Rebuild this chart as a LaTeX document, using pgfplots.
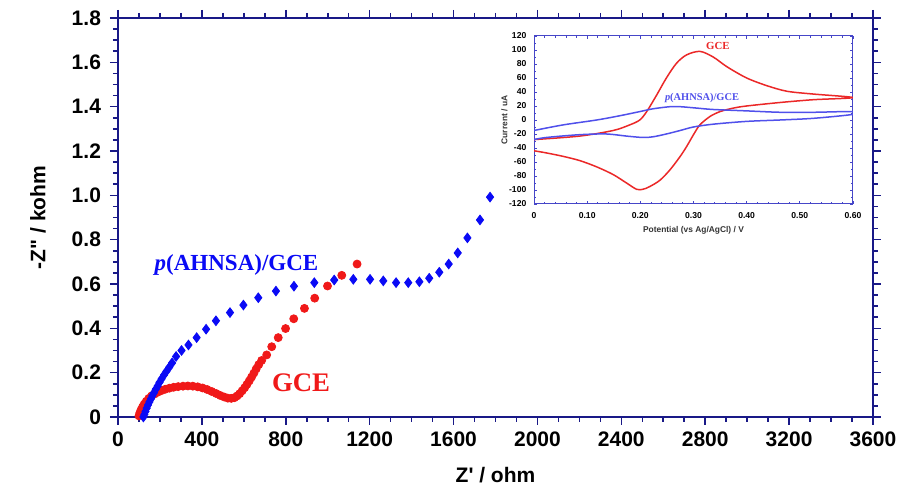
\documentclass[border=0pt]{standalone}
\usepackage{fontspec}
\setmainfont{Liberation Sans}
\newfontfamily\timesfont{Liberation Serif}
\usepackage{pgfplots}
\pgfplotsset{compat=1.18}
\definecolor{navy}{RGB}{25,25,135}
\definecolor{myblue}{RGB}{10,10,245}
\definecolor{myred}{RGB}{240,25,25}
\definecolor{insetframe}{RGB}{70,70,200}
\definecolor{cvblue}{RGB}{80,80,235}
\definecolor{cvred}{RGB}{235,40,40}

\begin{document}
\begin{tikzpicture}
\begin{axis}[
  name=main,
  scale only axis, width=377.5pt, height=199.5pt,
  xmin=0, xmax=3600, ymin=0, ymax=1.8,
  axis line style={navy, line width=1pt},
  xtick={0,400,...,3600},
  xticklabels={0,400,800,1200,1600,2000,2400,2800,3200,3600},
  minor x tick num=3,
  ytick={0,0.2,0.4,0.6,0.8,1.0,1.2,1.4,1.6,1.8},
  yticklabels={0,0.2,0.4,0.6,0.8,1.0,1.2,1.4,1.6,1.8},
  minor y tick num=3,
  tick align=outside,
  major tick length=4pt, minor tick length=2.5pt,
  every tick/.style={navy, line width=0.8pt},
  tick label style={font=\fontsize{10.5}{12}\selectfont\bfseries, black},
  xticklabel style={anchor=center, yshift=-7pt},
  yticklabel style={anchor=east, xshift=-1pt},
  xlabel={Z\textquotesingle{} / ohm},
  ylabel={-Z\textquotedbl{} / kohm},
  label style={font=\fontsize{10.5}{12}\selectfont\bfseries, black},
  x label style={at={(axis description cs:0.5,0)}, anchor=center, yshift=-29pt},
  y label style={at={(axis description cs:-0.106,0.5)}, anchor=center},
  clip=false,
]
% GCE (red)
\addplot[only marks, mark=*, mark size=2.0pt, color=myred, mark options={draw=myred, fill=myred}] coordinates {
(100,0.005) (104,0.018) (110,0.032) (117,0.045) (125,0.058) (135,0.071) (147,0.084)
(160,0.095) (175,0.104) (190,0.112) (207,0.119) (225,0.125) (245,0.130) (265,0.134)
(287,0.137) (310,0.139) (333,0.140) (357,0.139) (380,0.136) (403,0.131) (425,0.124)
(447,0.115) (468,0.106) (488,0.097) (507,0.090) (524,0.085) (540,0.084) (555,0.087)
(568,0.095) (580,0.105) (592,0.118) (604,0.132) (615,0.147) (626,0.163) (637,0.180)
(648,0.198) (659,0.217) (671,0.236) (685,0.255) (709,0.280) (733,0.317) (764,0.358)
(799,0.399) (838,0.443) (889,0.490) (938,0.536) (999,0.591) (1067,0.639) (1140,0.690)
};
% p(AHNSA)/GCE (blue)
\addplot[only marks, mark=diamond*, mark size=2.4pt, color=myblue, mark options={draw=myblue, fill=myblue}] coordinates {
(121,0.000) (126,0.012) (131,0.025) (137,0.040) (143,0.054) (150,0.068) (157,0.082)
(164,0.096) (172,0.110) (180,0.125) (189,0.140) (198,0.156) (208,0.172) (219,0.189)
(231,0.206) (244,0.224) (258,0.244) (277,0.273) (303,0.300) (336,0.325) (375,0.358)
(420,0.396) (467,0.434) (534,0.471) (598,0.505) (669,0.538) (753,0.568) (839,0.590)
(936,0.606) (1031,0.618) (1122,0.621) (1202,0.621) (1265,0.614) (1326,0.606)
(1384,0.606) (1437,0.610) (1484,0.626) (1532,0.653) (1577,0.690) (1620,0.740)
(1666,0.808) (1726,0.889) (1774,0.992)
};
\node[myblue, font=\timesfont\bfseries\fontsize{11.5}{13}\selectfont] at (axis cs:565,0.686) {\textit{p}(AHNSA)/GCE};
\node[myred, font=\timesfont\bfseries\fontsize{13.4}{15}\selectfont] at (axis cs:873,0.153) {GCE};
\end{axis}

\begin{axis}[
  at={(208pt,106.5pt)}, anchor=south west,
  scale only axis, width=159.5pt, height=84pt,
  xmin=0, xmax=0.6, ymin=-120, ymax=120,
  axis background/.style={fill=white},
  axis line style={insetframe, line width=0.5pt},
  xtick={0,0.1,0.2,0.3,0.4,0.5,0.6},
  xticklabels={0,0.10,0.20,0.30,0.40,0.50,0.60},
  minor x tick num=4,
  ytick={-120,-100,...,120},
  yticklabels={-120,-100,-80,-60,-40,-20,0,20,40,60,80,100,120},
  minor y tick num=1,
  tick align=inside,
  major tick length=1.5pt, minor tick length=0.9pt,
  every tick/.style={insetframe, line width=0.4pt},
  tick label style={font=\fontsize{4.3}{5}\selectfont\bfseries, black},
  xticklabel style={yshift=-0.5pt},
  yticklabel style={xshift=-0.3pt},
  xlabel={Potential (vs Ag/AgCl) / V},
  ylabel={Current / uA},
  label style={font=\fontsize{4.2}{5}\selectfont\bfseries, black!80},
  x label style={at={(axis description cs:0.5,0)}, anchor=center, yshift=-13pt},
  y label style={at={(axis description cs:-0.093,0.5)}, anchor=center},
]
\addplot[cvred, line width=0.75pt, smooth] coordinates {
(0,-44) (0.023,-47) (0.055,-52) (0.086,-58) (0.118,-67) (0.149,-78) (0.174,-90)
(0.193,-99) (0.205,-99) (0.218,-95) (0.237,-86) (0.256,-71) (0.275,-52) (0.287,-38)
(0.300,-21) (0.312,-7) (0.331,5) (0.350,12) (0.375,17) (0.400,20) (0.463,25)
(0.526,29) (0.600,32) (0.526,37) (0.476,41) (0.438,49) (0.400,60) (0.363,76)
(0.337,90) (0.312,98) (0.287,93) (0.268,81) (0.249,60) (0.231,36) (0.212,12)
(0.199,0) (0.180,-7) (0.149,-15) (0.086,-23) (0,-28)
};
\addplot[cvblue, line width=0.75pt, smooth] coordinates {
(0,-28) (0.023,-25) (0.086,-21) (0.136,-20) (0.174,-23) (0.205,-25) (0.224,-24)
(0.249,-20) (0.275,-15) (0.300,-10) (0.337,-6) (0.400,-2) (0.463,0) (0.526,2.4)
(0.600,8) (0.600,12) (0.526,11) (0.463,11) (0.400,13) (0.337,15) (0.306,17)
(0.275,19) (0.256,19) (0.224,16) (0.199,12) (0.161,6) (0.118,0) (0.055,-7) (0,-15)
};
\node[cvred, font=\timesfont\bfseries\fontsize{5.4}{6}\selectfont] at (axis cs:0.346,106) {GCE};
\node[cvblue, font=\timesfont\bfseries\fontsize{5.2}{6}\selectfont] at (axis cs:0.316,31) {\textit{p}(AHNSA)/GCE};
\end{axis}
\pgfresetboundingbox
\path[use as bounding box] (-59pt,-36.5pt) rectangle (391.5pt,208.5pt);
\end{tikzpicture}
\end{document}
